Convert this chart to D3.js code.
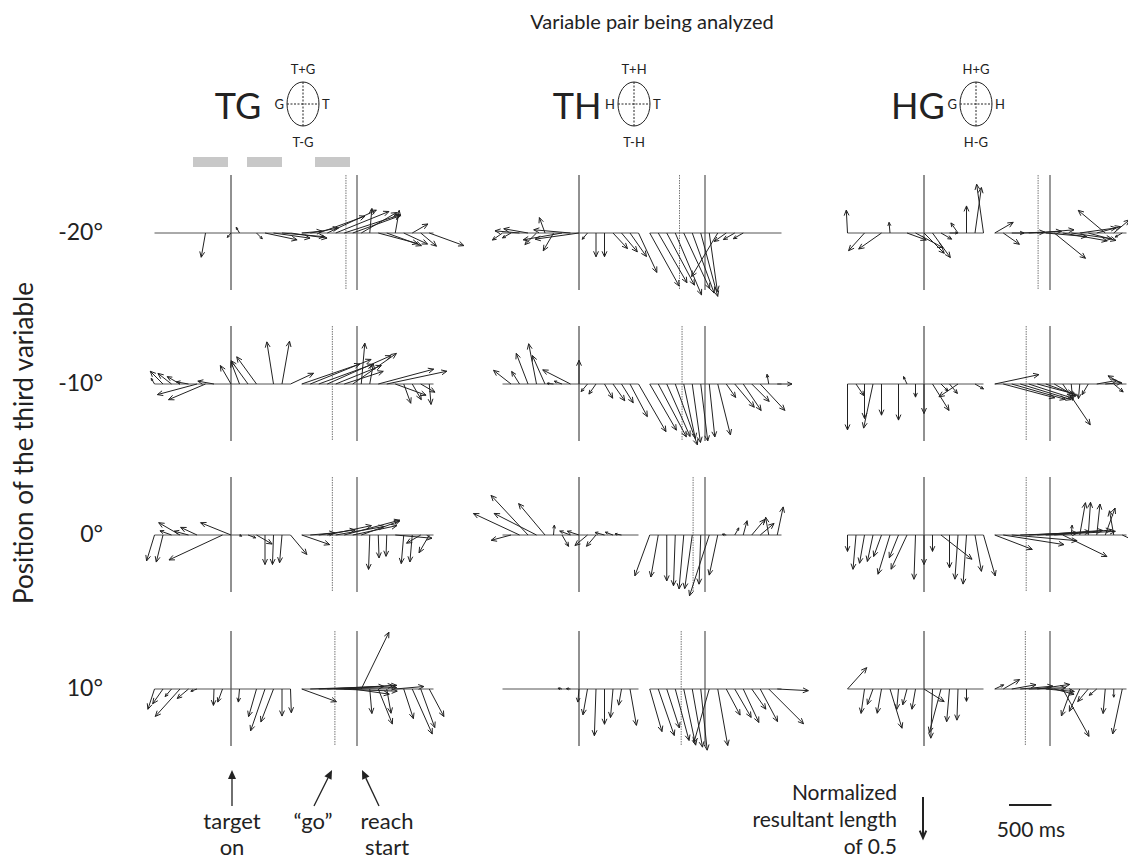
<!DOCTYPE html>
<html>
<head>
<meta charset="utf-8">
<script src="https://cdn.jsdelivr.net/npm/d3@7"></script>
<style>
  body { margin: 0; background: #fff; }
  svg { display: block; }
  text { font-family: Lato, "Open Sans", sans-serif; fill: #222; }
</style>
</head>
<body>
<svg id="chart" width="1128" height="862"></svg>
<script>
// time points (ms) of the two epochs: aligned on target onset / on reach start
var leftTimes = [-900, -800, -700, -600, -500, -400, -300, -200, -100, 0, 100, 200, 300, 400, 500, 600, 700];
var rightTimes = [-650, -550, -450, -350, -250, -150, -50, 50, 150, 250, 350, 450, 550, 650, 750, 850];

var pairNames = ['TG', 'TH', 'HG'];
var dirTop = ['T+G', 'T+H', 'H+G'];
var dirBottom = ['T-G', 'T-H', 'H-G'];
var dirLeft = ['G', 'H', 'G'];
var dirRight = ['T', 'T', 'H'];
var rowLabels = ['-20°', '-10°', '0°', '10°'];

// "go" signal, ms before reach start, per column then row
var goLeadTG = [130, 290, 290, 260];
var goLeadTH = [300, 270, 140, 280];
var goLeadHG = [140, 280, 280, 290];

// each arrow: [phase angle in degrees (0 = right, 90 = up), resultant length]
var TG_m20_L = [[0,0],[0,0],[0,0],[0,0],[0,0],[0,0],[-100,0.30],[0,0],[0,0],[-130,0.07],[120,0.08],[0,0],[-45,0.10],[-12,0.40],[-8,0.45],[-5,0.52],[-8,0.45]];
var TG_m20_R = [[5,0.25],[10,0.35],[20,0.60],[25,0.66],[22,0.70],[18,0.72],[20,0.62],[30,0.50],[85,0.30],[-15,0.50],[-20,0.45],[80,0.28],[-25,0.32],[30,0.22],[-40,0.25],[-20,0.45]];
var TG_m10_L = [[120,0.08],[135,0.22],[142,0.21],[150,0.18],[170,0.15],[-165,0.50],[-157,0.49],[170,0.20],[0,0],[120,0.26],[111,0.29],[126,0.35],[126,0.41],[0,0],[99,0.52],[80,0.53],[25,0.31]];
var TG_m10_R = [[19,0.75],[22,0.80],[20,0.70],[24,0.85],[22,0.60],[18,0.50],[35,0.65],[85,0.50],[80,0.25],[15,0.70],[12,0.75],[-20,0.40],[-70,0.25],[-60,0.22],[-30,0.20],[-85,0.25]];
var TG_0_L = [[-107,0.33],[-104,0.34],[160,0.15],[150,0.30],[165,0.18],[155,0.22],[0,0],[0,0],[-155,0.72],[158,0.40],[-30,0.03],[-20,0.10],[-30,0.22],[-90,0.36],[-92,0.36],[-95,0.34],[-50,0.31]];
var TG_0_R = [[-19,0.36],[5,0.30],[8,0.45],[12,0.55],[10,0.60],[15,0.70],[12,0.55],[20,0.50],[-92,0.42],[-88,0.28],[-92,0.26],[-5,0.45],[-95,0.35],[-95,0.33],[-150,0.20],[-120,0.25]];
var TG_10_L = [[-108,0.26],[-125,0.22],[-130,0.12],[-132,0.45],[-140,0.18],[-160,0.08],[0,0],[-92,0.20],[-110,0.17],[0,0],[-95,0.16],[0,0],[-106,0.35],[-109,0.54],[-111,0.43],[-90,0.33],[-88,0.29]];
var TG_10_R = [[-20,0.45],[2,0.90],[1,0.95],[3,0.85],[-2,0.75],[4,0.60],[-8,0.45],[64,0.77],[-85,0.30],[-68,0.46],[-80,0.30],[5,0.35],[-72,0.38],[-66,0.60],[-70,0.50],[-62,0.38]];

var TH_m20_L = [[-145,0.15],[-150,0.12],[175,0.30],[170,0.30],[-135,0.20],[110,0.20],[-120,0.25],[-170,0.48],[175,0.45],[-172,0.54],[-130,0.10],[-90,0.29],[-90,0.29],[-47,0.26],[-50,0.30],[-55,0.35],[-65,0.53]];
var TH_m20_R = [[-61,0.74],[-60,0.70],[-62,0.72],[-67,0.82],[-65,0.75],[-70,0.78],[-75,0.80],[-82,0.72],[-121,0.62],[-145,0.18],[-150,0.16],[-150,0.14],[0,0],[0,0],[0,0],[0,0]];
var TH_m10_L = [[0,0],[142,0.27],[122,0.18],[111,0.40],[101,0.50],[114,0.38],[175,0.08],[160,0.10],[153,0.38],[90,0.29],[-130,0.12],[-125,0.15],[-60,0.20],[-55,0.25],[-58,0.27],[-62,0.45],[-60,0.67]];
var TH_m10_R = [[-60,0.65],[-62,0.73],[-66,0.70],[-70,0.79],[-78,0.68],[-82,0.72],[-83,0.70],[-84,0.65],[-76,0.64],[-55,0.20],[-50,0.37],[-56,0.39],[-45,0.30],[-47,0.44],[100,0.12],[0,0.18]];
var TH_0_L = [[0,0],[-165,0.25],[155,0.62],[133,0.66],[153,0.58],[130,0.50],[85,0.12],[-60,0.16],[160,0.14],[162,0.15],[-140,0.20],[-130,0.18],[165,0.12],[160,0.10],[170,0.08],[0,0],[0,0]];
var TH_0_R = [[-110,0.53],[-100,0.52],[-90,0.56],[-92,0.62],[-95,0.66],[-98,0.66],[-92,0.60],[-108,0.78],[-102,0.50],[170,0.05],[60,0.10],[75,0.18],[50,0.25],[40,0.22],[100,0.22],[78,0.35]];
var TH_10_L = [[0,0],[0,0],[0,0],[0,0],[0,0],[0,0],[0,0],[170,0.05],[175,0.05],[-95,0.16],[-100,0.32],[-92,0.57],[-90,0.43],[-95,0.35],[-100,0.20],[-80,0.45],[0,0]];
var TH_10_R = [[-74,0.54],[-71,0.60],[-72,0.50],[-75,0.65],[-78,0.70],[-80,0.72],[-84,0.75],[-106,0.68],[-80,0.70],[-62,0.36],[-60,0.40],[-65,0.45],[-55,0.30],[-62,0.45],[-45,0.60],[-3,0.38]];

var HG_m20_L = [[93,0.28],[0,0],[-132,0.29],[0,0],[-145,0.34],[95,0.13],[0,0],[-20,0.25],[-28,0.38],[-45,0.35],[-54,0.37],[-30,0.15],[0,0.10],[125,0.15],[90,0.33],[82,0.56],[98,0.60]];
var HG_m20_R = [[30,0.26],[-35,0.24],[0,0.15],[2,0.30],[3,0.40],[5,0.45],[-5,0.50],[-39,0.49],[-10,0.55],[-8,0.50],[8,0.45],[-15,0.35],[15,0.30],[140,0.43],[40,0.25],[-150,0.10]];
var HG_m10_L = [[-90,0.56],[-56,0.17],[-90,0.42],[-102,0.55],[-90,0.38],[0,0],[-90,0.44],[115,0.10],[-90,0.16],[-90,0.36],[-58,0.38],[-45,0.12],[-50,0.15],[-146,0.28],[0,0],[-30,0.12],[0,0]];
var HG_m10_R = [[12,0.55],[-15,0.65],[-16,0.68],[-17,0.65],[-18,0.55],[-15,0.45],[-20,0.40],[-30,0.30],[-56,0.60],[-85,0.20],[-95,0.18],[-120,0.15],[10,0.25],[5,0.20],[-40,0.15],[150,0.20]];
var HG_0_L = [[-90,0.20],[-95,0.42],[-100,0.35],[-102,0.33],[-110,0.28],[-107,0.50],[-112,0.30],[-115,0.46],[-92,0.54],[-90,0.36],[-90,0.20],[-38,0.48],[-90,0.40],[-94,0.54],[-94,0.60],[-80,0.45],[-74,0.52]];
var HG_0_R = [[-21,0.49],[-9,0.75],[-5,0.80],[2,0.70],[3,0.75],[4,0.80],[3,0.85],[5,0.70],[-26,0.60],[85,0.12],[80,0.40],[86,0.40],[84,0.38],[70,0.35],[100,0.30],[-25,0.18]];
var HG_10_L = [[48,0.35],[0,0],[-98,0.30],[-110,0.20],[-100,0.30],[-73,0.50],[-95,0.25],[-105,0.20],[-100,0.25],[-32,0.29],[-92,0.60],[-105,0.55],[-95,0.40],[-92,0.38],[-90,0.15],[0,0],[0,0]];
var HG_10_R = [[25,0.12],[30,0.23],[10,0.30],[5,0.40],[2,0.45],[8,0.40],[-5,0.35],[-15,0.25],[-61,0.66],[-110,0.35],[-115,0.30],[-130,0.20],[-140,0.12],[-95,0.30],[-90,0.10],[-102,0.56]];

// rows x columns
var leftData = [[TG_m20_L, TH_m20_L, HG_m20_L], [TG_m10_L, TH_m10_L, HG_m10_L], [TG_0_L, TH_0_L, HG_0_L], [TG_10_L, TH_10_L, HG_10_L]];
var rightData = [[TG_m20_R, TH_m20_R, HG_m20_R], [TG_m10_R, TH_m10_R, HG_m10_R], [TG_0_R, TH_0_R, HG_0_R], [TG_10_R, TH_10_R, HG_10_R]];
var goLead = [goLeadTG, goLeadTH, goLeadHG];

// layout
var PX_PER_MS = 0.085;
var colTargetX = [231, 579, 924];
var REACH_SHIFT = 126;
var rowBaseY = [233, 384, 535, 689];
var INK = '#222';

var svg = d3.select('#chart');
var lenScale = d3.scaleLinear().domain([0, 0.5]).range([0, 41]);

function arrowPath(x0, y0, x1, y1, head) {
    var a = Math.atan2(y1 - y0, x1 - x0);
    var s = 0.42;
    var h1x = x1 - head * Math.cos(a - s), h1y = y1 - head * Math.sin(a - s);
    var h2x = x1 - head * Math.cos(a + s), h2y = y1 - head * Math.sin(a + s);
    return 'M' + x0 + ',' + y0 + 'L' + x1 + ',' + y1 +
        'M' + h1x + ',' + h1y + 'L' + x1 + ',' + y1 + 'L' + h2x + ',' + h2y;
}

function drawEpoch(g, times, vals, xScale, y0) {
    g.append('line')
        .attr('x1', xScale(times[0])).attr('x2', xScale(times[times.length - 1]))
        .attr('y1', y0).attr('y2', y0)
        .attr('stroke', '#555').attr('stroke-width', 1);

    var arrows = times.map(function (t, i) {
        var ang = vals[i][0] * Math.PI / 180;
        var len = lenScale(vals[i][1]);
        var x0 = xScale(t);
        return { x0: x0, y0: y0, x1: x0 + len * Math.cos(ang), y1: y0 - len * Math.sin(ang), len: len };
    }).filter(function (d) { return d.len > 0.5; });

    g.selectAll(null)
        .data(arrows)
        .enter()
        .append('path')
        .attr('d', function (d) { return arrowPath(d.x0, d.y0, d.x1, d.y1, Math.min(6, Math.max(2.5, d.len * 0.35))); })
        .attr('fill', 'none')
        .attr('stroke', INK)
        .attr('stroke-width', 1)
        .attr('stroke-linejoin', 'miter');
}

// panels
rowBaseY.forEach(function (y0, r) {
    colTargetX.forEach(function (tx, c) {
        var g = svg.append('g');
        var rx = tx + REACH_SHIFT;
        var xLeft = d3.scaleLinear().domain([0, 1000]).range([tx, tx + 1000 * PX_PER_MS]);
        var xRight = d3.scaleLinear().domain([0, 1000]).range([rx, rx + 1000 * PX_PER_MS]);
        var goX = xRight(-goLead[c][r]);

        // event lines
        g.append('line').attr('x1', tx).attr('x2', tx).attr('y1', y0 - 58).attr('y2', y0 + 57)
            .attr('stroke', '#222').attr('stroke-width', 1);
        g.append('line').attr('x1', goX).attr('x2', goX).attr('y1', y0 - 58).attr('y2', y0 + 57)
            .attr('stroke', '#777').attr('stroke-width', 1).attr('stroke-dasharray', '1.5,1');
        g.append('line').attr('x1', rx).attr('x2', rx).attr('y1', y0 - 58).attr('y2', y0 + 57)
            .attr('stroke', '#555').attr('stroke-width', 1.2);

        drawEpoch(g, leftTimes, leftData[r][c], xLeft, y0);
        drawEpoch(g, rightTimes.concat([900]), rightData[r][c].concat([[0, 0]]), xRight, y0);
    });
});

// titles
svg.append('text').attr('x', 652).attr('y', 29).attr('text-anchor', 'middle')
    .style('font-size', '20px').text('Variable pair being analyzed');

svg.append('text').attr('transform', 'translate(33,443)rotate(-90)').attr('text-anchor', 'middle')
    .style('font-size', '26px').text('Position of the third variable');

rowBaseY.forEach(function (y0, r) {
    svg.append('text').attr('x', 103).attr('y', y0 + 7).attr('text-anchor', 'end')
        .style('font-size', '23px').text(rowLabels[r]);
});

// pair labels with phase circle
var labelCenterX = [238, 577, 918];
var circleCenterX = [303, 634, 976];
colTargetX.forEach(function (tx, c) {
    svg.append('text').attr('x', labelCenterX[c]).attr('y', 119).attr('text-anchor', 'middle')
        .style('font-size', '36px').text(pairNames[c]);
    var cx = circleCenterX[c], cy = 104, crx = 16, cry = 22;
    var g = svg.append('g');
    g.append('ellipse').attr('cx', cx).attr('cy', cy).attr('rx', crx).attr('ry', cry)
        .attr('fill', 'none').attr('stroke', INK).attr('stroke-width', 1);
    g.append('line').attr('x1', cx - crx).attr('x2', cx + crx).attr('y1', cy).attr('y2', cy)
        .attr('stroke', INK).attr('stroke-width', 1).attr('stroke-dasharray', '2,1.5');
    g.append('line').attr('x1', cx).attr('x2', cx).attr('y1', cy - cry).attr('y2', cy + cry)
        .attr('stroke', INK).attr('stroke-width', 1).attr('stroke-dasharray', '2,1.5');
    g.append('text').attr('x', cx).attr('y', cy - 30).attr('text-anchor', 'middle').style('font-size', '13px').text(dirTop[c]);
    g.append('text').attr('x', cx).attr('y', cy + 43).attr('text-anchor', 'middle').style('font-size', '13px').text(dirBottom[c]);
    g.append('text').attr('x', cx - crx - 3).attr('y', cy + 5).attr('text-anchor', 'end').style('font-size', '13px').text(dirLeft[c]);
    g.append('text').attr('x', cx + crx + 3).attr('y', cy + 5).attr('text-anchor', 'start').style('font-size', '13px').text(dirRight[c]);
});

// gray analysis windows above the TG panels
var windowStart = [193, 247, 315];
windowStart.forEach(function (x) {
    svg.append('rect').attr('x', x).attr('y', 157).attr('width', 35).attr('height', 10).attr('fill', '#c8c8c8');
});

// event annotations
function solidArrow(x0, y0, x1, y1, w) {
    var a = Math.atan2(y1 - y0, x1 - x0);
    var hl = 9, hw = 4;
    var bx = x1 - hl * Math.cos(a), by = y1 - hl * Math.sin(a);
    svg.append('line').attr('x1', x0).attr('y1', y0).attr('x2', bx).attr('y2', by)
        .attr('stroke', INK).attr('stroke-width', w);
    svg.append('path')
        .attr('d', 'M' + x1 + ',' + y1 + 'L' + (bx + hw * Math.sin(a)) + ',' + (by - hw * Math.cos(a)) +
            'L' + (bx - hw * Math.sin(a)) + ',' + (by + hw * Math.cos(a)) + 'Z')
        .attr('fill', INK);
}
solidArrow(232, 806, 232, 770, 1.3);
solidArrow(314, 806, 332, 770, 1.3);
solidArrow(379, 806, 362, 770, 1.3);

var annot = [[232, 'target', 'on'], [313, '\u201Cgo\u201D', ''], [387, 'reach', 'start']];
annot.forEach(function (a) {
    svg.append('text').attr('x', a[0]).attr('y', 829).attr('text-anchor', 'middle').style('font-size', '22px').text(a[1]);
    svg.append('text').attr('x', a[0]).attr('y', 855).attr('text-anchor', 'middle').style('font-size', '22px').text(a[2]);
});

// legend: resultant length and time scale
['Normalized', 'resultant length', 'of 0.5'].forEach(function (s, i) {
    svg.append('text').attr('x', 897).attr('y', 800 + i * 27).attr('text-anchor', 'end').style('font-size', '21px').text(s);
});
var lx = 923, ly = 797;
svg.append('path').attr('d', arrowPath(lx, ly, lx, ly + lenScale(0.5), 8))
    .attr('fill', 'none').attr('stroke', INK).attr('stroke-width', 2);
svg.append('line').attr('x1', 1009).attr('x2', 1009 + 500 * PX_PER_MS).attr('y1', 805).attr('y2', 805)
    .attr('stroke', INK).attr('stroke-width', 2);
svg.append('text').attr('x', 1031).attr('y', 837).attr('text-anchor', 'middle').style('font-size', '21px').text('500 ms');
</script>
</body>
</html>
